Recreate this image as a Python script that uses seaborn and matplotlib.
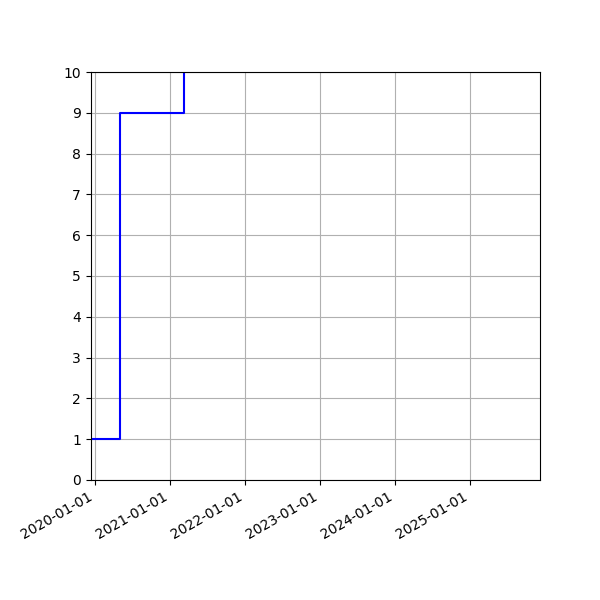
import matplotlib
matplotlib.use("Agg")
import matplotlib.pyplot as plt
import matplotlib.dates as mdates
import seaborn as sns
import pandas as pd

dates = ["2019-12-13", "2020-05-06", "2021-03-10"]
values = [1, 9, 15]

df = pd.DataFrame({"date": pd.to_datetime(dates), "value": values})

fig, ax = plt.subplots(figsize=(6, 6), dpi=100)
sns.lineplot(data=df, x="date", y="value", ax=ax, color="blue",
             drawstyle="steps-post", linewidth=1.5)
ax.set_xlim(pd.Timestamp("2019-12-13"), pd.Timestamp("2025-12-09"))
ax.set_ylim(0, 10)
ax.set_yticks(range(0, 11))
ax.xaxis.set_major_locator(mdates.YearLocator())
ax.xaxis.set_major_formatter(mdates.DateFormatter("%Y-%m-%d"))
ax.grid(True)
ax.set_xlabel("")
ax.set_ylabel("")
fig.autofmt_xdate()
fig.subplots_adjust(left=0.151, right=0.9, top=0.88, bottom=0.2)
fig.savefig("out.png", dpi=100)
